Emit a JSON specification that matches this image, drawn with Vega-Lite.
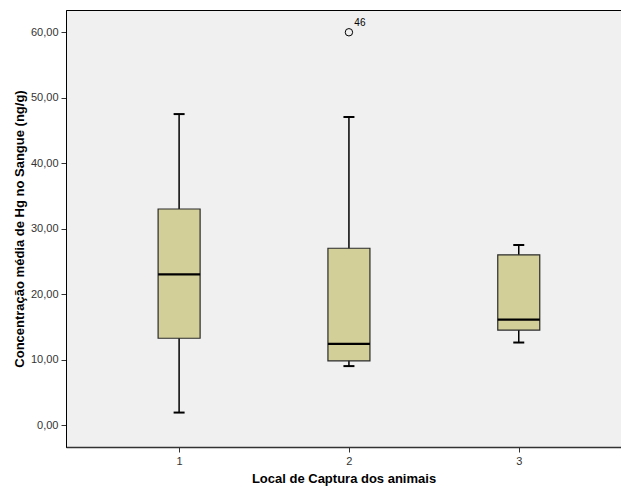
{
  "$schema": "https://vega.github.io/schema/vega-lite/v6.json",
  "width": 555,
  "height": 437,
  "autosize": "none",
  "padding": {"left": 66, "top": 10, "right": 0, "bottom": 44},
  "background": "white",
  "config": {
    "font": "Liberation Sans",
    "view": {"fill": "#f0f0f0", "stroke": "#000000", "strokeWidth": 1},
    "axis": {"grid": false}
  },
  "datasets": {
    "boxes": [
      {"local": 1, "min": 1.9, "q1": 13.25, "median": 23.0, "q3": 33.0, "max": 47.5},
      {"local": 2, "min": 9.0, "q1": 9.8, "median": 12.4, "q3": 27.0, "max": 47.05},
      {"local": 3, "min": 12.6, "q1": 14.5, "median": 16.1, "q3": 26.0, "max": 27.5}
    ],
    "outliers": [
      {"local": 2, "value": 60.0, "id": "46"}
    ]
  },
  "encoding": {
    "x": {
      "type": "quantitative",
      "scale": {"domain": [0.334, 3.602], "nice": false, "zero": false, "padding": 0},
      "axis": {
        "values": [1, 2, 3],
        "format": "d",
        "title": "Local de Captura dos animais",
        "titleFontSize": 13,
        "titleFontWeight": "bold",
        "titleColor": "#000000",
        "titlePadding": 6,
        "labelFontSize": 11,
        "labelColor": "#333333",
        "labelPadding": 3,
        "tickSize": 5,
        "tickColor": "#333333",
        "domainColor": "#333333",
        "domainWidth": 1.5
      }
    },
    "y": {
      "type": "quantitative",
      "scale": {"domain": [-3.36, 63.4], "nice": false, "zero": false},
      "axis": {
        "values": [0, 10, 20, 30, 40, 50, 60],
        "labelExpr": "replace(format(datum.value, '.2f'), '.', ',')",
        "title": "Concentração média de Hg no Sangue (ng/g)",
        "titleFontSize": 13,
        "titleFontWeight": "bold",
        "titleColor": "#000000",
        "titlePadding": 4,
        "labelFontSize": 11,
        "labelColor": "#333333",
        "labelPadding": 3,
        "tickSize": 5,
        "tickColor": "#333333",
        "domainColor": "#000000"
      }
    }
  },
  "layer": [
    {
      "data": {"name": "boxes"},
      "mark": {"type": "rule", "color": "#000000", "strokeWidth": 1.5},
      "encoding": {
        "x": {"field": "local"},
        "y": {"field": "min"},
        "y2": {"field": "max"}
      }
    },
    {
      "data": {"name": "boxes"},
      "mark": {"type": "tick", "orient": "horizontal", "size": 11, "thickness": 2, "color": "#000000", "opacity": 1},
      "encoding": {
        "x": {"field": "local"},
        "y": {"field": "min"}
      }
    },
    {
      "data": {"name": "boxes"},
      "mark": {"type": "tick", "orient": "horizontal", "size": 11, "thickness": 2, "color": "#000000", "opacity": 1},
      "encoding": {
        "x": {"field": "local"},
        "y": {"field": "max"}
      }
    },
    {
      "data": {"name": "boxes"},
      "mark": {"type": "bar", "width": 42, "fill": "#d3cf98", "stroke": "#2a2a2a", "strokeWidth": 1.2, "opacity": 1},
      "encoding": {
        "x": {"field": "local"},
        "y": {"field": "q1"},
        "y2": {"field": "q3"}
      }
    },
    {
      "data": {"name": "boxes"},
      "mark": {"type": "tick", "orient": "horizontal", "size": 42, "thickness": 2.2, "color": "#000000", "opacity": 1},
      "encoding": {
        "x": {"field": "local"},
        "y": {"field": "median"}
      }
    },
    {
      "data": {"name": "outliers"},
      "mark": {"type": "point", "shape": "circle", "filled": false, "size": 55, "stroke": "#000000", "strokeWidth": 1, "opacity": 1},
      "encoding": {
        "x": {"field": "local"},
        "y": {"field": "value"}
      }
    },
    {
      "data": {"name": "outliers"},
      "mark": {"type": "text", "fontSize": 10, "color": "#000000", "dx": 11, "dy": -9},
      "encoding": {
        "x": {"field": "local"},
        "y": {"field": "value"},
        "text": {"field": "id"}
      }
    }
  ]
}
